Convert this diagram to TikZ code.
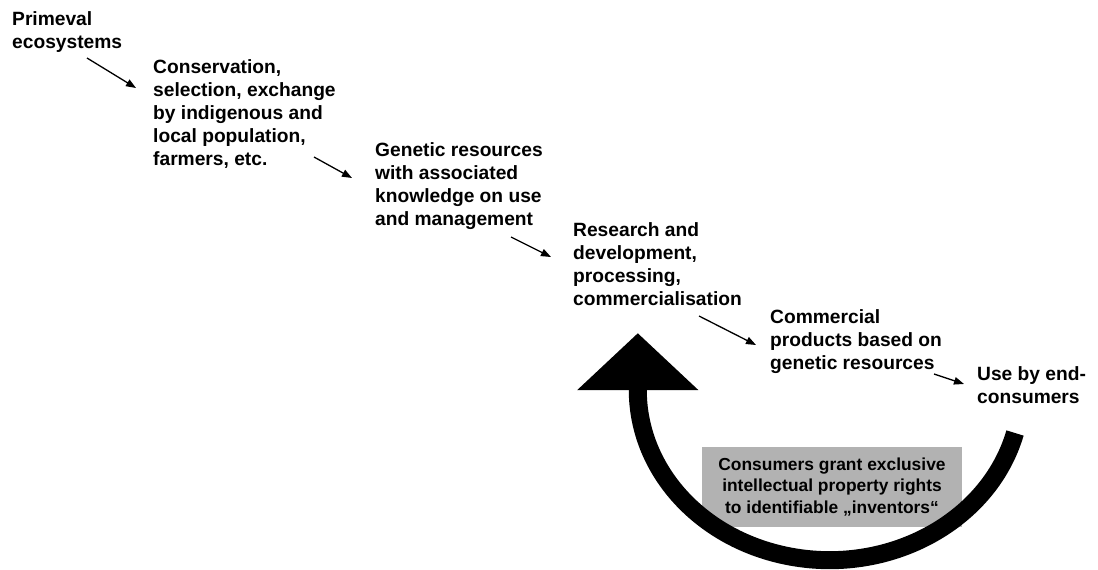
\documentclass[tikz,border=0pt]{standalone}
\usepackage{fontspec}
\setmainfont{Liberation Sans}
\usetikzlibrary{arrows.meta}
\definecolor{boxgray}{rgb}{0.7,0.7,0.7}

\begin{document}
\begin{tikzpicture}[x=1pt, y=-1pt,
    stage/.style={align=left, anchor=north west, inner sep=0pt, font=\fontsize{19.2}{23}\selectfont\bfseries},
    flow/.style={draw=black, line width=1.3pt, -{Triangle[length=10pt 0, width=7.5pt 0]}},
    grantbox/.style={fill=boxgray, align=center, minimum width=260pt, minimum height=80pt, inner sep=0pt, font=\fontsize{17.4}{21.2}\selectfont\bfseries}]
\useasboundingbox (0,0) rectangle (1098,570);
\node[stage] (primeval) at (12,11) {Primeval\\ecosystems};
\node[stage] (conservation) at (153,59) {Conservation,\\selection, exchange\\by indigenous and\\local population,\\farmers, etc.};
\node[stage] (genetic) at (375,142) {Genetic resources\\with associated\\knowledge on use\\and management};
\node[stage] (research) at (573,222) {Research and\\development,\\processing,\\commercialisation};
\node[stage] (products) at (770,309) {Commercial\\products based on\\genetic resources};
\node[stage] (enduse) at (977,366) {Use by end-\\consumers};
\draw[flow] ([shift={(75,47)}]primeval.north west) -- ([shift={(-17,29)}]conservation.north west);
\draw[flow] ([shift={(161,98)}]conservation.north west) -- ([shift={(-23,36)}]genetic.north west);
\draw[flow] ([shift={(136,95)}]genetic.north west) -- ([shift={(-22,35)}]research.north west);
\draw[flow] ([shift={(126,94)}]research.north west) -- ([shift={(-14,36)}]products.north west);
\draw[flow] ([shift={(164,65)}]products.north west) -- ([shift={(-13,18)}]enduse.north west);
% feedback loop
\node[grantbox] (grant) at (832,487) {Consumers grant exclusive\\intellectual property rights\\to identifiable „inventors“};
\draw[line width=18pt, -{Triangle[length=57pt 0, width=118pt 0]}] (1015,433) arc[start angle=14.6, end angle=180, x radius=191.7, y radius=170] -- ++(0,-57);
\end{tikzpicture}
\end{document}
